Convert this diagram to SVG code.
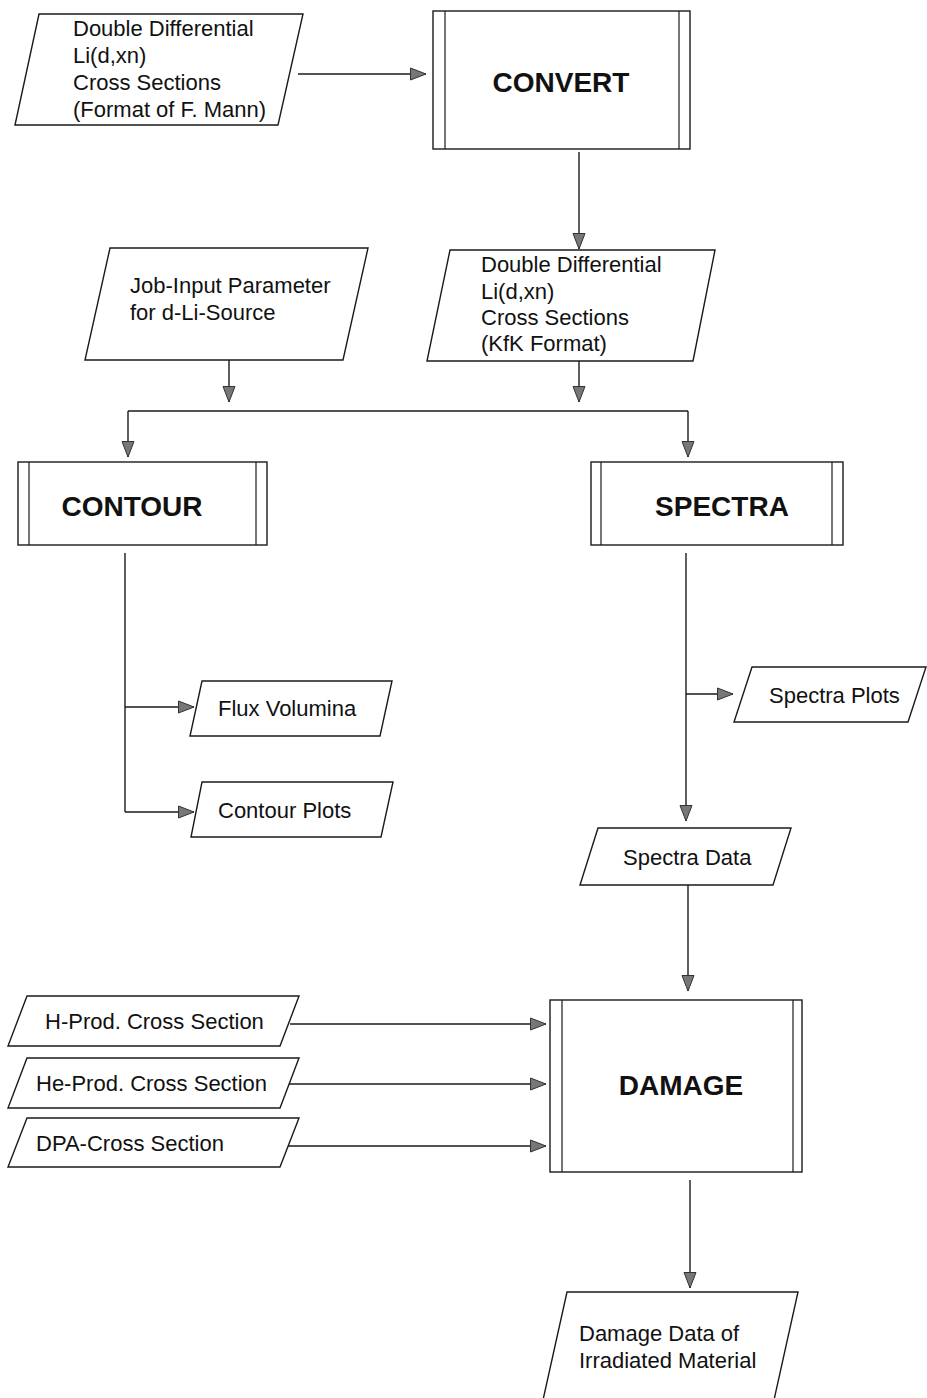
<svg xmlns="http://www.w3.org/2000/svg" width="927" height="1398" viewBox="0 0 927 1398">
<style>
.shape{fill:#fff;stroke:#1a1a1a;stroke-width:1.4}
.inner{stroke:#1a1a1a;stroke-width:1.2;fill:none}
.t{font-family:"Liberation Sans",Arial,sans-serif;font-size:22px;fill:#111}
.title{font-family:"Liberation Sans",Arial,sans-serif;font-size:28px;font-weight:bold;fill:#111;text-anchor:middle}
.conn{fill:none;stroke:#1a1a1a;stroke-width:1.4;marker-end:url(#arr)}
.line{fill:none;stroke:#1a1a1a;stroke-width:1.4}
</style>
<defs>
<marker id="arr" markerWidth="17" markerHeight="14" refX="16" refY="7" orient="auto" markerUnits="userSpaceOnUse">
<path d="M0.5,1 L16,7 L0.5,13 Z" fill="#777" stroke="#333" stroke-width="1"/>
</marker>
</defs>
<rect width="927" height="1398" fill="#fff"/>

<g id="connectors">
<path class="conn" d="M298,74 H426"/>
<path class="conn" d="M579,152 V249"/>
<path class="conn" d="M229,360 V402"/>
<path class="conn" d="M579,361 V402"/>
<path class="line" d="M128,411 H688"/>
<path class="conn" d="M128,411 V457"/>
<path class="conn" d="M688,411 V457"/>
<path class="line" d="M125,553 V812"/>
<path class="conn" d="M125,707 H194"/>
<path class="conn" d="M125,812 H194"/>
<path class="conn" d="M686,553 V821"/>
<path class="conn" d="M686,694 H733"/>
<path class="conn" d="M688,885 V991"/>
<path class="conn" d="M290,1024 H546"/>
<path class="conn" d="M288,1084 H546"/>
<path class="conn" d="M288,1146 H546"/>
<path class="conn" d="M690,1180 V1288"/>
</g>

<g id="in-mann">
<polygon class="shape" points="39,14 303,14 278,125 15,125"/>
<text class="t" x="73" y="36">Double Differential</text>
<text class="t" x="73" y="63">Li(d,xn)</text>
<text class="t" x="73" y="90">Cross Sections</text>
<text class="t" x="73" y="117">(Format of F. Mann)</text>
</g>

<g id="convert">
<rect class="shape" x="433" y="11" width="257" height="138"/>
<line class="inner" x1="445" y1="11" x2="445" y2="149"/>
<line class="inner" x1="679" y1="11" x2="679" y2="149"/>
<text class="title" x="561" y="92">CONVERT</text>
</g>

<g id="job-input">
<polygon class="shape" points="110,248 368,248 343,360 85,360"/>
<text class="t" x="130" y="293">Job-Input Parameter</text>
<text class="t" x="130" y="320">for d-Li-Source</text>
</g>

<g id="in-kfk">
<polygon class="shape" points="450,250 715,250 693,361 427,361"/>
<text class="t" x="481" y="272">Double Differential</text>
<text class="t" x="481" y="299">Li(d,xn)</text>
<text class="t" x="481" y="325">Cross Sections</text>
<text class="t" x="481" y="351">(KfK Format)</text>
</g>

<g id="contour">
<rect class="shape" x="18" y="462" width="249" height="83"/>
<line class="inner" x1="29" y1="462" x2="29" y2="545"/>
<line class="inner" x1="256" y1="462" x2="256" y2="545"/>
<text class="title" x="132" y="516">CONTOUR</text>
</g>

<g id="spectra">
<rect class="shape" x="591" y="462" width="252" height="83"/>
<line class="inner" x1="601" y1="462" x2="601" y2="545"/>
<line class="inner" x1="832" y1="462" x2="832" y2="545"/>
<text class="title" x="722" y="516">SPECTRA</text>
</g>

<g id="flux-volumina">
<polygon class="shape" points="202,681 392,681 380,736 190,736"/>
<text class="t" x="218" y="716">Flux Volumina</text>
</g>

<g id="contour-plots">
<polygon class="shape" points="202,782 393,782 381,837 191,837"/>
<text class="t" x="218" y="818">Contour Plots</text>
</g>

<g id="spectra-plots">
<polygon class="shape" points="752,667 926,667 908,722 734,722"/>
<text class="t" x="769" y="703">Spectra Plots</text>
</g>

<g id="spectra-data">
<polygon class="shape" points="598,828 791,828 773,885 580,885"/>
<text class="t" x="623" y="865">Spectra Data</text>
</g>

<g id="h-prod">
<polygon class="shape" points="27,996 299,996 280,1046 8,1046"/>
<text class="t" x="45" y="1029">H-Prod. Cross Section</text>
</g>

<g id="he-prod">
<polygon class="shape" points="27,1058 299,1058 280,1108 8,1108"/>
<text class="t" x="36" y="1091">He-Prod. Cross Section</text>
</g>

<g id="dpa">
<polygon class="shape" points="27,1118 299,1118 280,1167 8,1167"/>
<text class="t" x="36" y="1151">DPA-Cross Section</text>
</g>

<g id="damage">
<rect class="shape" x="550" y="1000" width="252" height="172"/>
<line class="inner" x1="562" y1="1000" x2="562" y2="1172"/>
<line class="inner" x1="793" y1="1000" x2="793" y2="1172"/>
<text class="title" x="681" y="1095">DAMAGE</text>
</g>

<g id="damage-data">
<polygon class="shape" points="567,1292 798,1292 774,1400 543,1400"/>
<text class="t" x="579" y="1341">Damage Data of</text>
<text class="t" x="579" y="1368">Irradiated Material</text>
</g>
</svg>
